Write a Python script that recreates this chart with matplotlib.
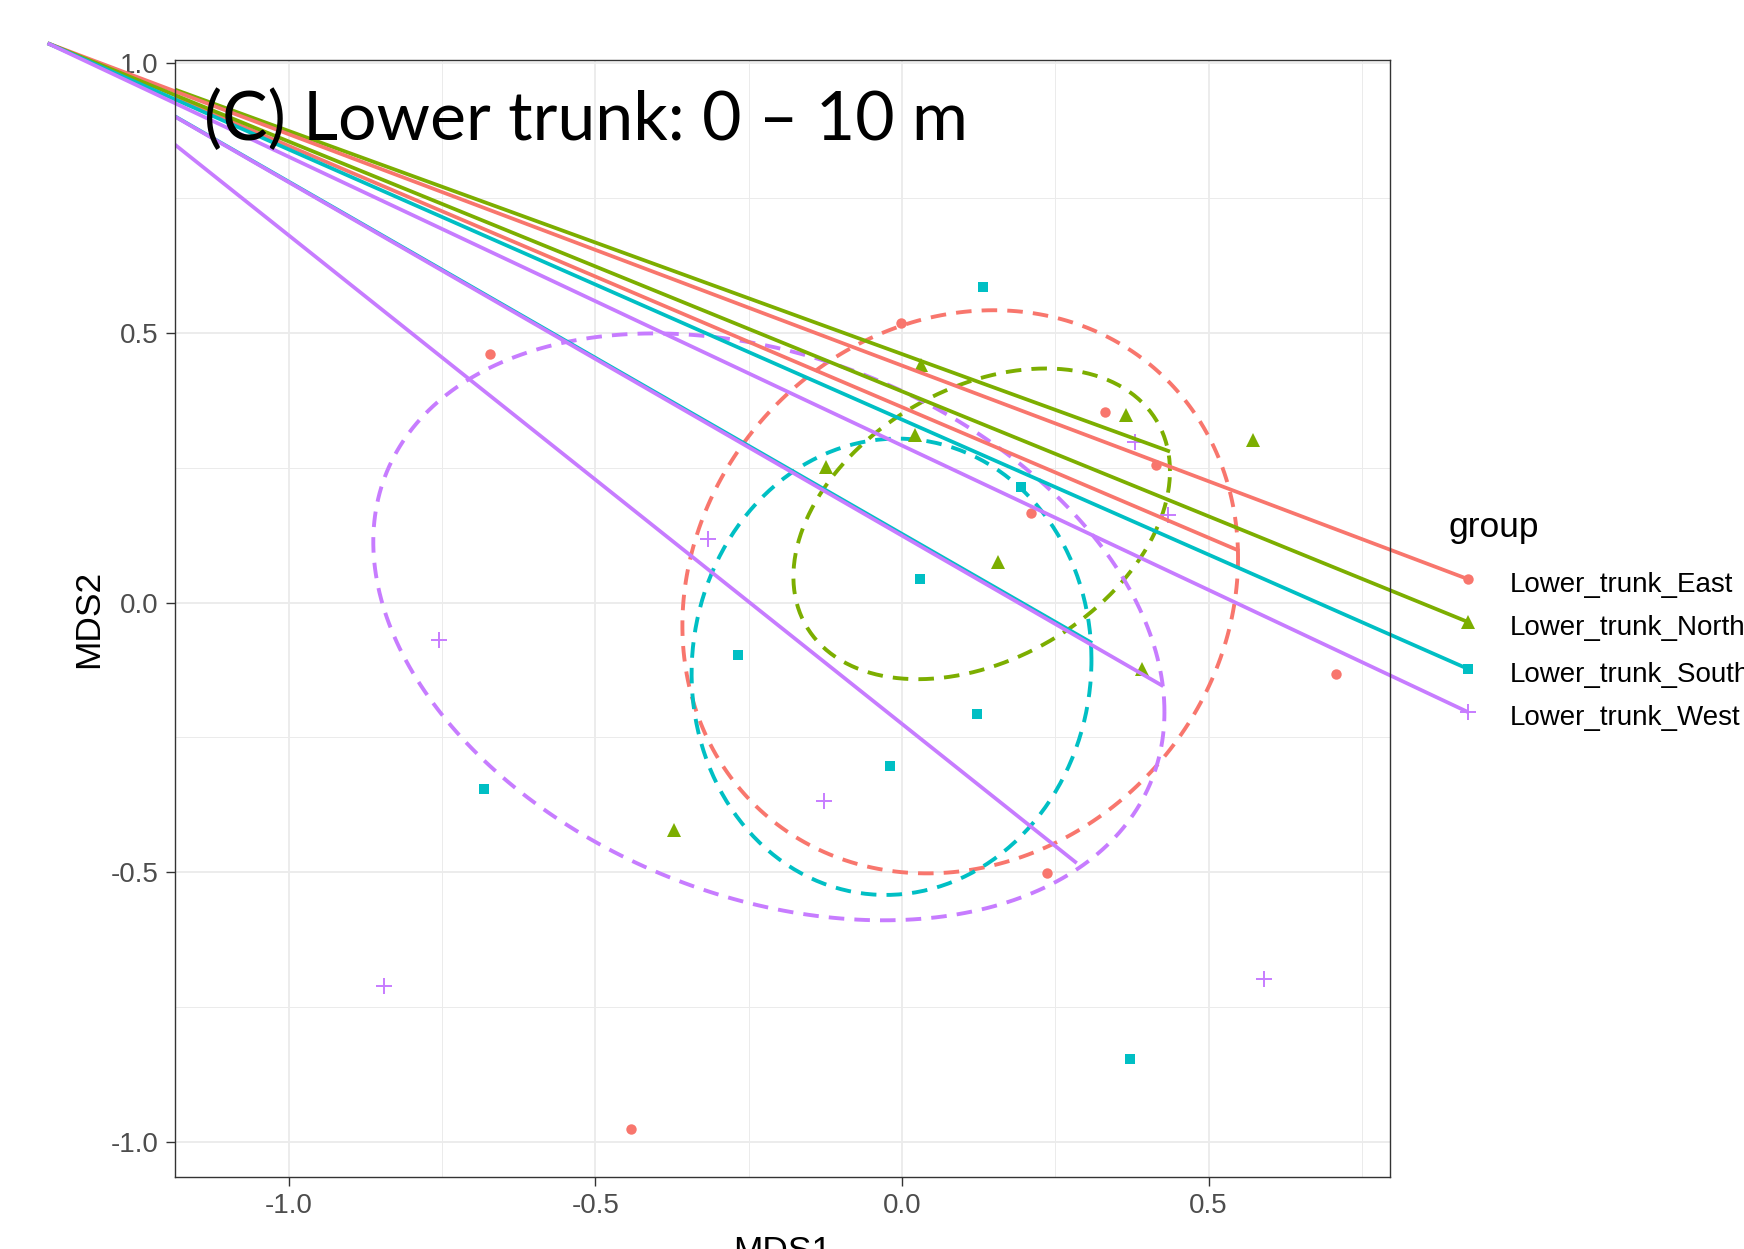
import numpy as np
import matplotlib.pyplot as plt
from matplotlib.ticker import MultipleLocator, FormatStrFormatter

plt.rcParams['font.family'] = ['Liberation Sans', 'DejaVu Sans']
plt.rcParams['axes.unicode_minus'] = False

groups = ['Lower_trunk_East', 'Lower_trunk_North', 'Lower_trunk_South', 'Lower_trunk_West']
colors = ['#F8766D', '#7CAE00', '#00BFC4', '#C77CFF']
markers = ['o', '^', 's', '+']
msizes = [7.5, 10, 7, 11]

# NMDS site scores per group
east_x = [-0.671, -0.002, 0.331, 0.415, 0.210, 0.707, 0.236, -0.441]
east_y = [0.461, 0.519, 0.354, 0.255, 0.166, -0.133, -0.502, -0.976]
north_x = [0.031, 0.366, 0.573, 0.021, -0.124, 0.156, 0.392, -0.372]
north_y = [0.441, 0.348, 0.302, 0.311, 0.251, 0.076, -0.124, -0.421]
south_x = [0.132, 0.194, 0.030, -0.268, 0.122, -0.020, -0.682, 0.372]
south_y = [0.585, 0.214, 0.044, -0.098, -0.207, -0.303, -0.346, -0.846]
west_x = [0.380, 0.434, -0.317, -0.755, -0.127, -0.845, 0.590]
west_y = [0.298, 0.162, 0.118, -0.070, -0.368, -0.711, -0.698]

# ellipse centre, half-extent in x / y, correlation
ell_cx = [0.095, 0.130, -0.017, -0.217]
ell_cy = [0.020, 0.146, -0.119, -0.045]
ell_wx = [0.453, 0.307, 0.326, 0.645]
ell_hy = [0.522, 0.288, 0.423, 0.544]
ell_r = [0.12, 0.34, 0.03, -0.29]

# stray path segments, all leaving the same point outside the panel
seg_x0, seg_y0 = -1.393, 1.037
seg_group = [1, 0, 2, 3, 3]
seg_x1 = [0.437, 0.550, 0.310, 0.426, 0.285]
seg_y1 = [0.280, 0.096, -0.075, -0.155, -0.483]
key_x = 0.923
key_y = [0.0435, -0.036, -0.123, -0.203]

xs = [east_x, north_x, south_x, west_x]
ys = [east_y, north_y, south_y, west_y]

fig = plt.figure(figsize=(17.44, 12.49), dpi=100)
ax = fig.add_axes([0.1001, 0.0576, 0.6970, 0.8944])
ax.set_xlim(-1.186, 0.796)
ax.set_ylim(-1.065, 1.006)

ax.xaxis.set_major_locator(MultipleLocator(0.5))
ax.yaxis.set_major_locator(MultipleLocator(0.5))
ax.xaxis.set_minor_locator(MultipleLocator(0.25))
ax.yaxis.set_minor_locator(MultipleLocator(0.25))
ax.xaxis.set_major_formatter(FormatStrFormatter('%.1f'))
ax.yaxis.set_major_formatter(FormatStrFormatter('%.1f'))
ax.grid(True, which='major', color='#EBEBEB', lw=1.3)
ax.grid(True, which='minor', color='#EBEBEB', lw=0.7)
ax.set_axisbelow(True)
ax.tick_params(which='major', length=6.3, width=1, color='#333333',
               labelsize=20, labelcolor='#4D4D4D', pad=5)
ax.tick_params(which='minor', length=0)
for sp in ax.spines.values():
    sp.set_color('#333333')
    sp.set_linewidth(1.0)

t = np.linspace(0, 2 * np.pi, 300)
for i in range(4):
    sxy = ell_r[i] * ell_wx[i] * ell_hy[i]
    S = np.array([[ell_wx[i] ** 2, sxy], [sxy, ell_hy[i] ** 2]])
    L = np.linalg.cholesky(S)
    pts = L @ np.vstack([np.cos(t), np.sin(t)])
    ax.plot(ell_cx[i] + pts[0], ell_cy[i] + pts[1], color=colors[i], lw=2.8,
            linestyle=(0, (4, 2.6)))

for i in range(4):
    ax.plot(xs[i], ys[i], linestyle='none', marker=markers[i], ms=msizes[i],
            color=colors[i], mew=1.4 if markers[i] == '+' else 0)

for g, x1, y1 in zip(seg_group, seg_x1, seg_y1):
    ax.plot([seg_x0, x1], [seg_y0, y1], color=colors[g], lw=2.7,
            solid_capstyle='butt')

# legend keys tied to the stray lines
for i in range(4):
    ax.plot([seg_x0, key_x], [seg_y0, key_y[i]], color=colors[i], lw=2.7,
            clip_on=False, solid_capstyle='butt')
    ax.plot([key_x], [key_y[i]], marker=markers[i], ms=msizes[i], color=colors[i],
            mew=1.4 if markers[i] == '+' else 0, clip_on=False)
    ax.annotate(groups[i], xy=(key_x, key_y[i]), xytext=(30, -9.5),
                textcoords='offset points', fontsize=20, va='baseline',
                ha='left', annotation_clip=False)
ax.annotate('group', xy=(key_x, key_y[0]), xytext=(-14.4, 30),
            textcoords='offset points', fontsize=25.5, va='baseline',
            ha='left', annotation_clip=False)

ax.set_xlabel('MDS1', fontsize=25.5, labelpad=12)
ax.set_ylabel('MDS2', fontsize=25.5, labelpad=4)

fig.text(0.1167, 1 - 140 / 1249, '(C) Lower trunk: 0 \u2013 10 m', fontsize=49,
         family='Lato', va='baseline', ha='left')

fig.savefig('out.png', dpi=100)
